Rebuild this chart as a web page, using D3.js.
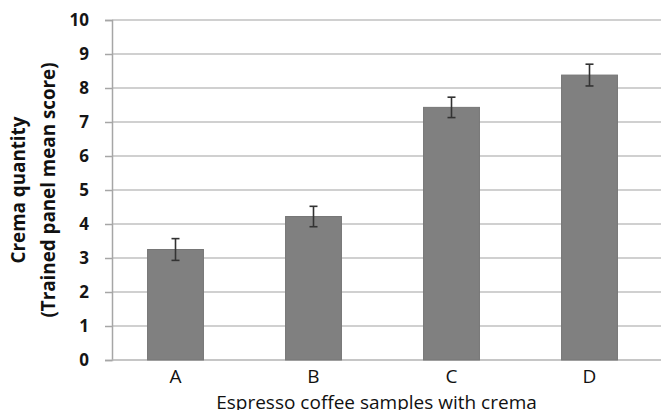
<!DOCTYPE html>
<html>
<head>
<meta charset="utf-8">
<script src="https://cdn.jsdelivr.net/npm/d3@7"></script>
<style>
  html, body { margin: 0; padding: 0; background: #fff; }
  svg { display: block; }
  text { font-family: "Open Sans", "Liberation Sans", sans-serif; }
</style>
</head>
<body>
<svg id="chart" width="661" height="410"></svg>
<script>
const categories = ["A", "B", "C", "D"];
const meanScores = [3.25, 4.22, 7.43, 8.38];
const errorValues = [0.32, 0.30, 0.30, 0.32];
const yTicks = [0, 1, 2, 3, 4, 5, 6, 7, 8, 9, 10];
const yTitleLines = ["Crema quantity", "(Trained panel mean score)"];
const xTitle = "Espresso coffee samples with crema";

const svg = d3.select("#chart");
const axisX = 112;

const x = d3.scaleBand().domain(categories).range([106.5, 658.5]).paddingInner(0.595).paddingOuter(0.2975);
const y = d3.scaleLinear().domain([0, 10]).range([360, 20]);

// gridlines
svg.append("g").selectAll("line").data(yTicks.filter(d => d > 0)).join("line")
  .attr("x1", axisX).attr("x2", 661)
  .attr("y1", d => y(d)).attr("y2", d => y(d))
  .attr("stroke", "#d0d0d0").attr("stroke-width", 2);

// y axis
const yAxis = d3.axisLeft(y).tickValues(yTicks).tickSize(7).tickPadding(16).tickFormat(d3.format("d"));
const gy = svg.append("g").attr("transform", `translate(${axisX},0)`).call(yAxis);
gy.select(".domain").attr("stroke", "#a6a6a6").attr("stroke-width", 1.5);
gy.selectAll(".tick line").attr("stroke", "#a6a6a6").attr("stroke-width", 1.5);
gy.selectAll(".tick text").attr("fill", "#151515").attr("font-size", 17).attr("font-weight", "bold")
  .attr("font-family", "'Open Sans', sans-serif");

// x axis baseline
svg.append("line").attr("x1", axisX).attr("x2", 661).attr("y1", y(0)).attr("y2", y(0))
  .attr("stroke", "#b3b3b3").attr("stroke-width", 1.5);

// bars
svg.append("g").selectAll("rect").data(categories).join("rect")
  .attr("x", d => x(d)).attr("width", x.bandwidth())
  .attr("y", (d, i) => y(meanScores[i])).attr("height", (d, i) => y(0) - y(meanScores[i]))
  .attr("fill", "#808080").attr("stroke", "#767676").attr("stroke-width", 1);

// error bars
const eb = svg.append("g").selectAll("g").data(categories).join("g");
eb.append("line")
  .attr("x1", d => x(d) + x.bandwidth() / 2).attr("x2", d => x(d) + x.bandwidth() / 2)
  .attr("y1", (d, i) => y(meanScores[i] + errorValues[i])).attr("y2", (d, i) => y(meanScores[i] - errorValues[i]))
  .attr("stroke", "#333").attr("stroke-width", 1.6);
eb.selectAll("line.cap").data((d, i) => [[d, meanScores[i] + errorValues[i]], [d, meanScores[i] - errorValues[i]]]).join("line")
  .attr("class", "cap")
  .attr("x1", d => x(d[0]) + x.bandwidth() / 2 - 4).attr("x2", d => x(d[0]) + x.bandwidth() / 2 + 4)
  .attr("y1", d => y(d[1])).attr("y2", d => y(d[1]))
  .attr("stroke", "#333").attr("stroke-width", 1.6);

// x labels
svg.append("g").selectAll("text").data(categories).join("text")
  .attr("x", d => x(d) + x.bandwidth() / 2).attr("y", 383)
  .attr("text-anchor", "middle").attr("font-size", 19).attr("fill", "#111")
  .text(d => d);

// x title
svg.append("text").attr("x", 376.5).attr("y", 408.5).attr("text-anchor", "middle")
  .attr("font-size", 19).attr("fill", "#111").text(xTitle);

// y title
const yt = svg.append("text").attr("transform", "translate(0,190) rotate(-90)")
  .attr("text-anchor", "middle").attr("font-size", 18.8).attr("font-weight", "bold").attr("fill", "#111");
yt.selectAll("tspan").data(yTitleLines).join("tspan")
  .attr("x", 0).attr("y", (d, i) => i === 0 ? 25 : 55).text(d => d);
</script>
</body>
</html>
